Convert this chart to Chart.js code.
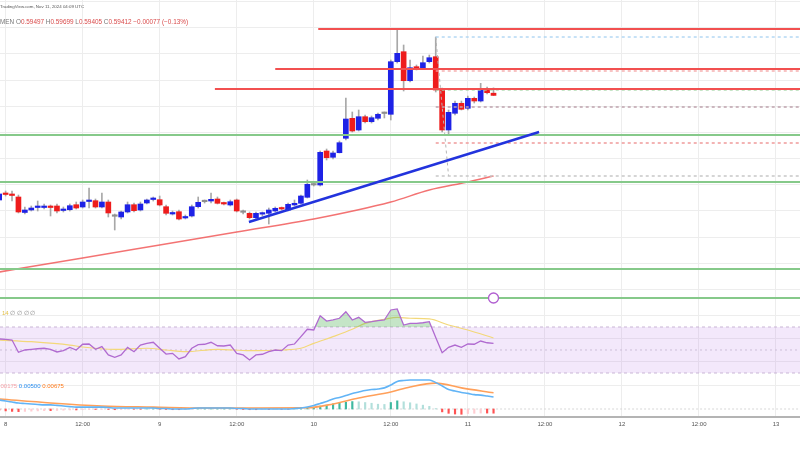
<!DOCTYPE html>
<html>
<head>
<meta charset="utf-8">
<script src="https://cdn.jsdelivr.net/npm/chart.js@4.4.1/dist/chart.umd.min.js"></script>
<style>
  body { margin: 0; width: 800px; height: 450px; overflow: hidden; background: #fff; position: relative; font-family: Arial, "Liberation Sans", sans-serif; }
  canvas { position: absolute; left: 0; }
  .t { position: absolute; white-space: nowrap; line-height: 1; }
</style>
</head>
<body>
<canvas id="main" width="800" height="305" style="top:0"></canvas>
<canvas id="rsi" width="800" height="73" style="top:305px"></canvas>
<canvas id="macd" width="800" height="72" style="top:378px"></canvas>

<div class="t" style="left:0;top:5px;font-size:4.4px;color:#555">TradingView.com, Nov 11, 2024 04:09 UTC</div>
<div class="t" style="left:0;top:19px;font-size:6.4px;color:#777">MEN <span>O</span><span style="color:#d94a4a">0.59497</span> H<span style="color:#d94a4a">0.59699</span> L<span style="color:#d94a4a">0.59405</span> C<span style="color:#d94a4a">0.59412</span> <span style="color:#d94a4a">−0.00077 (−0.13%)</span></div>
<div class="t" style="left:2px;top:310px;font-size:6px;color:#e3c04a">14 <span style="color:#888">∅ ∅ ∅ ∅</span></div>
<div class="t" style="left:-8px;top:383px;font-size:6px;color:#f5a3aa">−0.00175 <span style="color:#2b8ff0">0.00500</span> <span style="color:#ff7a1a">0.00675</span></div>

<script>
// hourly candles, x = hours since Nov 8 00:00
const hours = [-1, 0, 1, 2, 3, 4, 5, 6, 7, 8, 9, 10, 11, 12, 13, 14, 15, 16, 17, 18,
  19, 20, 21, 22, 23, 24, 25, 26, 27, 28, 29, 30, 31, 32, 33, 34, 35, 36, 37, 38,
  39, 40, 41, 42, 43, 44, 45, 46, 47, 48, 49, 50, 51, 52, 53, 54, 55, 56, 57, 58,
  59, 60, 61, 62, 63, 64, 65, 66, 67, 68, 69, 70, 71, 72, 73, 74, 75, 76];

const opens = [0.55420, 0.55687, 0.55630, 0.55534, 0.54943, 0.55038, 0.55133, 0.55133, 0.55171, 0.55191,
  0.55019, 0.55049, 0.55240, 0.55153, 0.55362, 0.55393, 0.55153, 0.55343, 0.54809, 0.54771,
  0.54962, 0.55240, 0.55038, 0.55305, 0.55439, 0.55431, 0.55164, 0.54885, 0.54973, 0.54733,
  0.54809, 0.55164, 0.55355, 0.55381, 0.55458, 0.55305, 0.55229, 0.55420, 0.54962, 0.54912,
  0.54744, 0.54880, 0.54912, 0.55000, 0.55114, 0.55038, 0.55229, 0.55294, 0.55523, 0.55992,
  0.55992, 0.57290, 0.57050, 0.57225, 0.57775, 0.58538, 0.58091, 0.58599, 0.58408, 0.58538,
  0.58721, 0.58691, 0.60699, 0.61080, 0.59973, 0.60508, 0.60469, 0.60699, 0.60889, 0.59618,
  0.58092, 0.58729, 0.59111, 0.58920, 0.59301, 0.59198, 0.59645, 0.59497];
const highs = [0.55725, 0.55763, 0.55763, 0.55610, 0.55153, 0.55191, 0.55381, 0.55267, 0.55229, 0.55267,
  0.55153, 0.55267, 0.55343, 0.55420, 0.55878, 0.55458, 0.55687, 0.55420, 0.54885, 0.55000,
  0.55343, 0.55305, 0.55343, 0.55458, 0.55534, 0.55572, 0.55229, 0.55000, 0.55038, 0.54847,
  0.55229, 0.55534, 0.55420, 0.55687, 0.55534, 0.55343, 0.55420, 0.55458, 0.55038, 0.54962,
  0.54962, 0.54962, 0.55114, 0.55153, 0.55153, 0.55305, 0.55420, 0.55610, 0.56183, 0.56069,
  0.57290, 0.57366, 0.57290, 0.57672, 0.59313, 0.58779, 0.58855, 0.58664, 0.58626, 0.58740,
  0.58779, 0.60763, 0.61935, 0.61336, 0.60763, 0.60573, 0.60916, 0.60954, 0.61641, 0.59695,
  0.58855, 0.59198, 0.59198, 0.59389, 0.59351, 0.59874, 0.59733, 0.59699];
const lows = [0.55343, 0.55572, 0.55381, 0.54924, 0.54885, 0.55000, 0.55000, 0.55076, 0.54809, 0.54924,
  0.54962, 0.55000, 0.55076, 0.55114, 0.55114, 0.55114, 0.55114, 0.54771, 0.54275, 0.54694,
  0.54924, 0.54962, 0.55000, 0.55267, 0.55381, 0.55191, 0.54847, 0.54847, 0.54656, 0.54694,
  0.54771, 0.55114, 0.55305, 0.55305, 0.55267, 0.55229, 0.55191, 0.54962, 0.54885, 0.54694,
  0.54694, 0.54809, 0.54504, 0.54962, 0.55038, 0.55000, 0.55191, 0.55267, 0.55496, 0.55954,
  0.55954, 0.56946, 0.56985, 0.57214, 0.57710, 0.58015, 0.58053, 0.58359, 0.58359, 0.58473,
  0.58550, 0.58473, 0.60649, 0.59580, 0.59924, 0.60382, 0.60420, 0.60649, 0.59542, 0.58015,
  0.57901, 0.58664, 0.58855, 0.58855, 0.59122, 0.59160, 0.59466, 0.59405];
const closes = [0.55649, 0.55630, 0.55592, 0.54962, 0.55038, 0.55114, 0.55171, 0.55171, 0.55133, 0.55000,
  0.55057, 0.55202, 0.55114, 0.55343, 0.55400, 0.55153, 0.55343, 0.54924, 0.54798, 0.54962,
  0.55240, 0.55011, 0.55267, 0.55420, 0.55469, 0.55229, 0.54912, 0.54943, 0.54694, 0.54782,
  0.55164, 0.55332, 0.55362, 0.55446, 0.55294, 0.55267, 0.55355, 0.55000, 0.54950, 0.54744,
  0.54912, 0.54910, 0.55038, 0.55103, 0.55076, 0.55255, 0.55294, 0.55572, 0.56019, 0.56005,
  0.57240, 0.57034, 0.57214, 0.57607, 0.58511, 0.58053, 0.58599, 0.58408, 0.58561, 0.58691,
  0.58733, 0.60699, 0.61019, 0.59973, 0.60469, 0.60447, 0.60660, 0.60851, 0.59618, 0.58092,
  0.58767, 0.59111, 0.58882, 0.59301, 0.59198, 0.59645, 0.59515, 0.59412];

// moving average on price (red)
const maHours = [-1, 12, 24, 36, 48, 60, 66, 72, 76];
const maValues = [0.52671, 0.53206, 0.53702, 0.54198, 0.54694, 0.55343, 0.55801, 0.56107, 0.56336];

// drawn levels
const resistanceLevels = [0.61947, 0.60420, 0.59656];
const resistanceStarts = [48.7, 42.0, 32.6];
const supportLevels = [0.57901, 0.56107, 0.52786, 0.51679];
const fibLevels = [0.61641, 0.60344, 0.59618, 0.58969, 0.57595, 0.56336];
const fibHours = [67, 69];
const trendHours = [37.9, 83.1];
const trendPrices = [0.54580, 0.58015];
const eventHours = [76];
const eventPrices = [0.51679];

// RSI pane
const rsiValues = [59.6, 59.3, 58.7, 48.0, 50.0, 50.6, 51.1, 51.5, 50.6, 48.3,
  49.4, 52.3, 50.0, 55.0, 55.2, 50.6, 52.9, 45.7, 43.7, 45.7,
  52.3, 48.5, 54.3, 55.8, 56.7, 51.5, 46.5, 47.1, 42.2, 44.2,
  51.5, 54.6, 55.0, 56.7, 53.7, 53.5, 54.3, 47.1, 45.7, 41.3,
  45.7, 46.3, 48.5, 50.0, 49.4, 54.3, 55.2, 61.6, 68.0, 67.4,
  79.8, 75.2, 76.1, 77.6, 83.3, 76.1, 78.4, 74.1, 74.6, 75.5,
  76.1, 84.8, 85.7, 71.7, 73.2, 73.2, 73.7, 74.6, 60.8, 47.7,
  52.3, 54.3, 52.3, 55.2, 55.0, 57.8, 56.3, 55.8];
const rsiMaHours = [-1, 4, 10, 12, 17, 22, 25, 28, 33, 38, 43, 46, 48, 51, 54, 56, 59, 61, 63, 66, 69, 72, 76];
const rsiMaValues = [58.7, 57.2, 54.3, 52.6, 50.6, 51.5, 50.0, 48.5, 50.6, 49.4, 50.0, 51.5, 55.8, 61.6, 68.0, 73.2, 76.7, 78.4, 77.6, 77.0, 71.7, 67.4, 60.4];

// MACD pane
const macdValues = [0.00375, 0.0033, 0.0029, 0.0025, 0.0023, 0.0021, 0.0019, 0.0017, 0.0017, 0.0015,
  0.00125, 0.0010, 0.0008, 0.0008, 0.0008, 0.0008, 0.0008, 0.0006, 0.0004, 0.0004,
  0.0004, 0.0004, 0.0004, 0.0004, 0.0004, 0.0002, 0.0002, 0.0000, 0.0000, 0.0000,
  0.0002, 0.0004, 0.0004, 0.0004, 0.0004, 0.0004, 0.0004, 0.0002, 0.0002, 0.0000,
  0.0000, 0.0000, 0.0000, 0.0000, 0.0000, 0.0000, 0.0002, 0.0004, 0.0008, 0.0015,
  0.0023, 0.0031, 0.0042, 0.0048, 0.0056, 0.0065, 0.0071, 0.0077, 0.0081, 0.0083,
  0.0088, 0.0100, 0.0115, 0.0119, 0.0121, 0.0121, 0.0121, 0.0121, 0.0110, 0.0096,
  0.0081, 0.0075, 0.0069, 0.0065, 0.0060, 0.0058, 0.0054, 0.0050];
const signalHours = [-1, 7, 15, 23, 31, 39, 47, 51, 55, 60, 63, 67, 71, 76];
const signalValues = [0.0042, 0.0025, 0.00125, 0.0008, 0.0004, 0.0004, 0.0005, 0.0021, 0.0046, 0.0071, 0.0092, 0.0108, 0.0088, 0.00675];
const histValues = [-0.0005, -0.0008, -0.0010, -0.0011, -0.0010, -0.0009, -0.0008, -0.0007, -0.0007, -0.0006,
  -0.0005, -0.0004, -0.0004, -0.0003, -0.0002, -0.0002, -0.0001, -0.0002, -0.0003, -0.0002,
  -0.0001, -0.0001, -0.0001, 0.0000, 0.0000, -0.0001, -0.0002, -0.0003, -0.0003, -0.0002,
  -0.0001, 0.0001, 0.0001, 0.0001, 0.0001, 0.0001, 0.0001, -0.0001, -0.0002, -0.0003,
  -0.0003, -0.0002, -0.0002, -0.0001, -0.0001, -0.0001, 0.0000, 0.0001, 0.0003, 0.0006,
  0.0012, 0.0016, 0.0021, 0.0024, 0.0028, 0.0031, 0.0030, 0.0027, 0.0024, 0.0020,
  0.0019, 0.0027, 0.0034, 0.0030, 0.0026, 0.0021, 0.0016, 0.0011, 0.0002, -0.0012,
  -0.0018, -0.0021, -0.0022, -0.0019, -0.0018, -0.0017, -0.0017, -0.00175];

// time axis
const tickHours = [0, 12, 24, 36, 48, 60, 72, 84, 96, 108, 120];
const tickLabels = ['8', '12:00', '9', '12:00', '10', '12:00', '11', '12:00', '12', '12:00', '13'];

const X_MIN = -0.872, X_MAX = 123.74;
const GRID = '#ededed';

function pts(xs, ys) { return xs.map((x, i) => ({ x: x, y: ys[i] })); }
function hline(level, start, color, width, dash) {
  return {
    type: 'line', data: [{ x: start, y: level }, { x: X_MAX, y: level }],
    borderColor: color, borderWidth: width, borderDash: dash || [], pointRadius: 0, order: 1
  };
}
function xScale(extra) {
  return Object.assign({
    type: 'linear', min: X_MIN, max: X_MAX, offset: false,
    grid: { color: GRID, drawTicks: false, offset: false },
    border: { display: false },
    ticks: { display: false },
    afterBuildTicks: s => { s.ticks = tickHours.map(v => ({ value: v })); }
  }, extra || {});
}
const common = {
  responsive: false, animation: false, devicePixelRatio: 1,
  layout: { padding: 0, autoPadding: false },
  plugins: { legend: { display: false }, tooltip: { enabled: false } }
};

// candle colours
function candleColor(i) {
  const d = closes[i] - opens[i];
  if (Math.abs(d) < 0.00025) return '#8f8f8f';
  return d > 0 ? '#1e22e6' : '#ee1c1c';
}

// ---- main pane ----
const mainSets = [];
mainSets.push({
  type: 'bar', data: hours.map((h, i) => ({ x: h, y: [lows[i], highs[i]] })),
  backgroundColor: '#a8a8a8', barThickness: 1, grouped: false, order: 6
});
mainSets.push({
  type: 'bar', data: hours.map((h, i) => ({ x: h, y: [opens[i], closes[i]] })),
  backgroundColor: hours.map((h, i) => candleColor(i)), barThickness: 5, minBarLength: 1.5, grouped: false, order: 5
});
mainSets.push({
  type: 'line', data: pts(maHours, maValues), borderColor: 'rgba(240,80,80,0.8)', borderWidth: 1.5,
  pointRadius: 0, cubicInterpolationMode: 'monotone', order: 7
});
supportLevels.forEach(l => mainSets.push(hline(l, X_MIN, '#86c98a', 2)));
resistanceLevels.forEach((l, i) => mainSets.push(hline(l, resistanceStarts[i], '#f25050', 2)));
const fibColors = ['#a9d2f2', '#f4a3a3', '#a9d8ab', '#bfa3ad', '#ef9a9a', '#c8c8c8'];
fibLevels.forEach((l, i) => mainSets.push(hline(l, fibHours[0], fibColors[i], 1.3, [3, 3])));
mainSets.push({
  type: 'line', data: [{ x: fibHours[0], y: fibLevels[0] }, { x: fibHours[1], y: fibLevels[fibLevels.length - 1] }],
  borderColor: '#b5b5b5', borderWidth: 1, borderDash: [3, 3], pointRadius: 0, order: 1
});
mainSets.push({
  type: 'line', data: pts(trendHours, trendPrices), borderColor: '#2233dd', borderWidth: 2.5, pointRadius: 0, order: 0
});
mainSets.push({
  type: 'line', data: pts(eventHours, eventPrices), showLine: false,
  pointRadius: 5, pointBackgroundColor: '#fff', pointBorderColor: '#b05ed0', pointBorderWidth: 1.3, order: 0
});

new Chart(document.getElementById('main'), {
  type: 'bar',
  data: { datasets: mainSets },
  options: Object.assign({}, common, {
    scales: {
      x: xScale(),
      y: {
        type: 'linear', min: 0.514118, max: 0.630536,
        grid: { color: GRID, drawTicks: false }, border: { display: false }, ticks: { display: false },
        afterBuildTicks: s => { s.ticks = [0.52, 0.53, 0.54, 0.55, 0.56, 0.57, 0.58, 0.59, 0.60, 0.61, 0.62, 0.63].map(v => ({ value: v })); }
      }
    }
  })
});

// ---- RSI pane ----
new Chart(document.getElementById('rsi'), {
  type: 'line',
  data: {
    datasets: [
      {
        data: pts(hours, rsiValues), borderColor: '#b06ad0', borderWidth: 1.3, pointRadius: 0,
        fill: { target: { value: 70 }, above: 'rgba(90,180,95,0.35)', below: 'rgba(0,0,0,0)' }, order: 0
      },
      { data: pts(rsiMaHours, rsiMaValues), borderColor: '#f3d879', borderWidth: 1.2, pointRadius: 0, cubicInterpolationMode: 'monotone', order: 1 },
      { data: [{ x: X_MIN, y: 70 }, { x: X_MAX, y: 70 }], borderColor: '#c9b6d6', borderWidth: 1, borderDash: [3, 3], pointRadius: 0, order: 2 },
      { data: [{ x: X_MIN, y: 30 }, { x: X_MAX, y: 30 }], borderColor: '#c9b6d6', borderWidth: 1, borderDash: [3, 3], pointRadius: 0,
        fill: 2, backgroundColor: 'rgba(180,110,230,0.16)', order: 3 },
      { data: [{ x: X_MIN, y: 50 }, { x: X_MAX, y: 50 }], borderColor: '#cdbfd8', borderWidth: 1, borderDash: [2, 3], pointRadius: 0, order: 2 }
    ]
  },
  options: Object.assign({}, common, {
    scales: {
      x: xScale(),
      y: {
        type: 'linear', min: 25.65, max: 89.13,
        grid: { color: GRID, drawTicks: false }, border: { display: false }, ticks: { display: false },
        afterBuildTicks: s => { s.ticks = [40, 60, 80].map(v => ({ value: v })); }
      }
    }
  })
});

// ---- MACD pane ----
function histColor(i) {
  const v = histValues[i], p = i > 0 ? histValues[i - 1] : v;
  if (v >= 0) return v >= p ? '#3fb8a0' : '#b2dfdb';
  return v <= p ? '#ff5252' : '#ffcdd2';
}
new Chart(document.getElementById('macd'), {
  type: 'bar',
  data: {
    datasets: [
      { type: 'bar', data: pts(hours, histValues), backgroundColor: hours.map((h, i) => histColor(i)), barThickness: 1.5, grouped: false, order: 3 },
      { type: 'line', data: [{ x: X_MIN, y: 0 }, { x: X_MAX, y: 0 }], borderColor: '#d8d8d8', borderWidth: 1, borderDash: [2, 2], pointRadius: 0, order: 4 },
      { type: 'line', data: pts(hours, macdValues), borderColor: '#62b4f6', borderWidth: 1.6, pointRadius: 0, cubicInterpolationMode: 'monotone', order: 0 },
      { type: 'line', data: pts(signalHours, signalValues), borderColor: '#ffa05a', borderWidth: 1.6, pointRadius: 0, cubicInterpolationMode: 'monotone', order: 1 }
    ]
  },
  options: Object.assign({}, common, {
    scales: {
      x: xScale({
        border: { display: true, color: '#b4b4b4', width: 2 },
        ticks: {
          display: true, padding: 4, color: '#555', maxRotation: 0, autoSkip: false,
          font: { size: 6, family: 'Arial, "Liberation Sans", sans-serif' },
          callback: v => tickLabels[tickHours.indexOf(v)]
        },
        afterFit: s => { s.height = 33; }
      }),
      y: {
        type: 'linear', min: -0.003333, max: 0.012917,
        grid: { color: GRID, drawTicks: false }, border: { display: false }, ticks: { display: false },
        afterBuildTicks: s => { s.ticks = [0.01].map(v => ({ value: v })); }
      }
    }
  })
});
</script>
</body>
</html>
